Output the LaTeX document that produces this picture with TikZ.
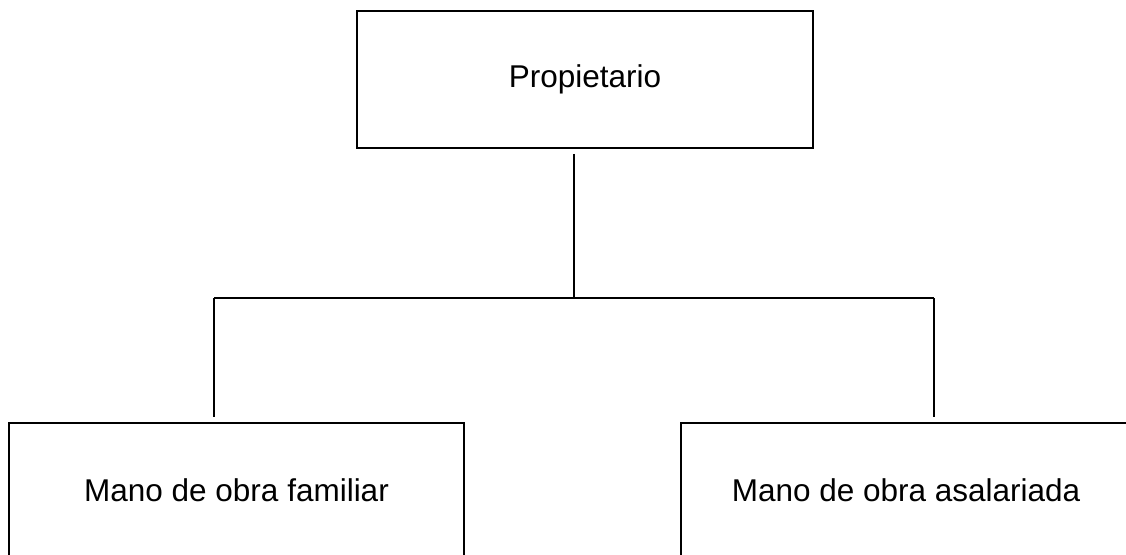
\documentclass[tikz,border=0pt]{standalone}
\usepackage{fontspec}
\setmainfont{Liberation Sans}
\begin{document}
\begin{tikzpicture}[x=1pt, y=-1pt, line width=1.5pt,
        caja/.style={draw, shape=rectangle, inner sep=0pt, font=\fontsize{31.5}{36}\selectfont}]
        \clip (0,0) rectangle (1126,554);
        
        \node[caja, minimum width=456pt, minimum height=137pt] (Prop) at (585, 79.5) {Propietario};
        
        \node[caja, minimum width=455pt, minimum height=134pt] (Fam) at (236.5, 490) {Mano de obra familiar};
        \node[caja, minimum width=450pt, minimum height=134pt] (Asal) at (906, 490) {Mano de obra asalariada};
        
        \coordinate (J) at (574, 298);
        \coordinate (JL) at (214, 298);
        \coordinate (JR) at (934, 298);
        
        \draw ([yshift=-5pt]Prop.south -| J) -- (J);
        \draw (JL) -- (JR);
        \draw (JL) -- ([yshift=5pt]JL |- Fam.north);
        \draw (JR) -- ([yshift=5pt]JR |- Asal.north);
    \end{tikzpicture}
\end{document}
